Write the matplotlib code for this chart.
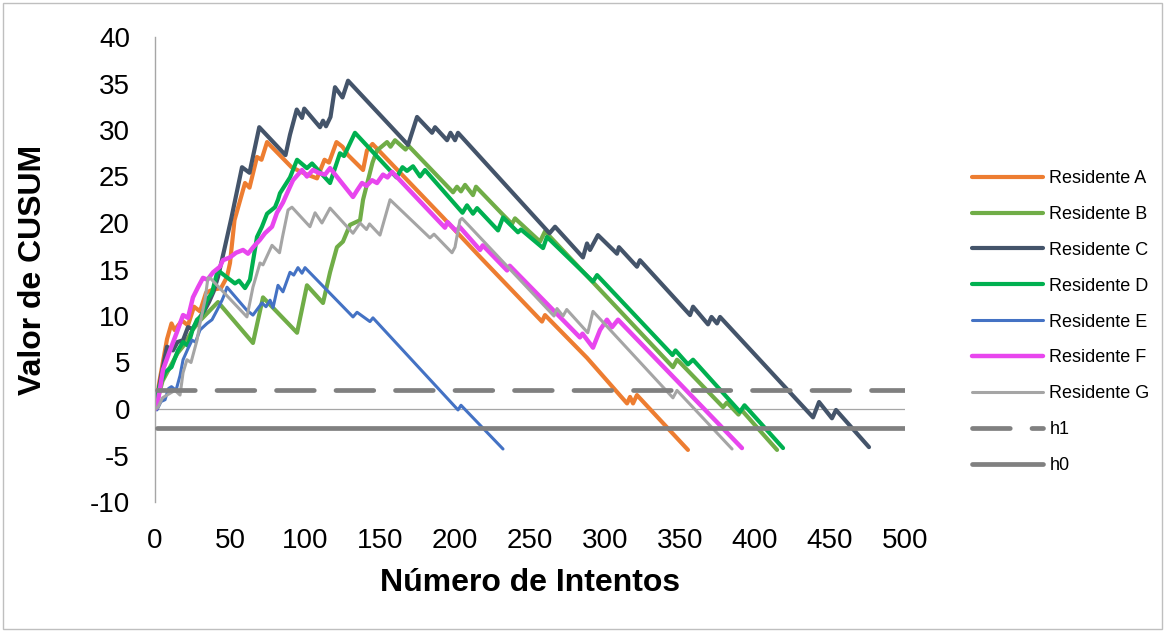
import matplotlib.pyplot as plt
from matplotlib.patches import Rectangle

plt.rcParams['font.family'] = ['Liberation Sans', 'DejaVu Sans']
plt.rcParams['axes.unicode_minus'] = False

# vertices (attempt number, CUSUM value)
a_x = [0, 3, 8, 11, 13, 18, 22, 26, 30, 34, 38, 44, 48, 50, 53, 60, 63, 68, 71, 74.7, 91, 100, 108,
       113, 116, 121, 125, 128.7, 138.7, 141.3, 145, 192, 217, 258, 260, 288, 314.7, 316.7, 318.7,
       321.3, 355.3]
a_y = [0, 3, 7.5, 9.2, 8.5, 9.5, 9, 11, 10.5, 12.5, 12.8, 13, 14.2, 15.7, 20.3, 24.3, 23.8, 27.1,
       26.8, 28.7, 26, 25.3, 24.8, 26.8, 26.5, 28.7, 28.2, 27.3, 25.7, 27.8, 28.5, 20.6, 16.3, 9.4,
       10.1, 5.5, 0.6, 1.3, 0.6, 1.5, -4.4]

b_x = [0, 5, 10, 15, 20, 25, 30, 36, 42, 65.3, 72, 94.7, 101.3, 112, 116.7, 121.3, 125.3, 130,
       136.7, 138.7, 145, 148, 154.7, 157, 160, 167, 169, 198.7, 201.3, 204, 206.7, 212, 214, 231.3,
       238, 240, 256.7, 260, 345.3, 348, 350, 378.7, 381.3, 389, 391, 414.7]
b_y = [0, 3, 4.5, 6, 7, 8.5, 9.5, 10.5, 11.5, 7.1, 12, 8.2, 13.3, 11.4, 14.7, 17.4, 18, 19.8,
       20.3, 22.5, 26.5, 27.8, 28.7, 28.2, 28.9, 27.9, 28.3, 23.3, 23.9, 23.4, 24.1, 23, 23.9, 21,
       19.9, 20.5, 18, 19.1, 4.5, 5.3, 5.0, 0.2, 0.7, -0.6, -0.1, -4.4]

c_x = [0, 1, 4, 8, 12, 15, 18.7, 22, 25, 28, 33, 36, 39, 42, 46, 51, 58, 63, 69.5, 87, 90, 94.5,
       98, 99.5, 110, 112, 114, 117, 120, 125, 128.7, 168.7, 174.7, 184.7, 186.7, 194.7, 197, 200,
       202, 263, 266.7, 285.3, 288, 290, 295.3, 308, 309.3, 321.3, 323.3, 356.7, 358.7, 368.7, 371,
       374.7, 376.7, 438.7, 442.7, 451.3, 454, 476]
c_y = [0, 0.6, 3.5, 6.7, 6.3, 7.2, 7.4, 8.8, 8.6, 9.4, 10.6, 11.5, 12.6, 14.2, 17, 20.6, 26, 25.4,
       30.3, 27.3, 29.5, 32.2, 31.3, 32.3, 30.3, 31, 30.4, 31.4, 34.6, 33.5, 35.3, 28.4, 31.4, 29.7,
       30.3, 28.9, 29.7, 28.9, 29.7, 18.9, 19.6, 16.3, 17.8, 17.1, 18.7, 16.7, 17.4, 15.3, 16, 10.1,
       11, 9.1, 9.9, 9.2, 9.9, -0.9, 0.75, -1, -0.1, -4.1]

d_x = [0, 3, 7, 11, 15.3, 18.7, 22, 25, 28, 31, 34.7, 38, 41.3, 42, 53.3, 56, 60, 63.3, 68, 71.3,
       74.7, 80, 82, 83.3, 90, 94.7, 101.3, 104.7, 116.7, 123.3, 126, 133.3, 161, 165, 168, 172,
       176.7, 180, 205, 208, 212, 214.7, 228.7, 232, 242, 244, 258.7, 261.3, 292, 294.7, 345, 347,
       355.3, 358.7, 390, 393, 418.7]
d_y = [0, 2.5, 4, 4.5, 6.3, 7.2, 6.8, 8.5, 9.6, 10, 11.7, 12.5, 14.6, 14.9, 13.5, 13.8, 13, 13.9,
       18.5, 19.6, 21, 21.7, 22.5, 23.2, 24.9, 26.8, 25.9, 26.4, 24.3, 27.5, 27.2, 29.7, 24.9, 26,
       25.6, 26.1, 25, 25.7, 21.1, 21.9, 21, 21.6, 19.2, 20.6, 19, 19.3, 17.3, 18.5, 13.7, 14.4, 5.8,
       6.3, 4.8, 5.3, -0.3, 0.4, -4.2]

e_x = [0, 1.3, 4, 6.7, 9, 11, 14, 16.7, 18.7, 22, 24.7, 27, 30, 34.7, 38, 41.3, 44.7, 46, 48, 61.3,
       65.3, 71.3, 74, 76.7, 78.7, 82, 85.3, 90, 92.5, 95.3, 98, 100, 132, 134.7, 143.3, 145.3, 202,
       204, 232]
e_y = [0, -0.1, 0.8, 1, 2.2, 2.4, 2.0, 3.6, 5.3, 6.5, 7.4, 7.2, 8.5, 9.2, 9.6, 10.6, 11.7, 12.2,
       13.1, 10.6, 10.1, 11.4, 11, 11.7, 10.9, 13.3, 12.6, 14.7, 14.4, 15.2, 14.6, 15.2, 9.9, 10.4,
       9.4, 9.8, -0.1, 0.4, -4.3]

f_x = [0, 1.3, 5.3, 10, 14.7, 18.7, 22, 25.3, 28.7, 32, 35, 38.7, 43.3, 45.3, 50, 54, 58.7, 62, 66,
       70, 73.3, 78, 81.3, 85.3, 90, 92, 98, 101.3, 105.3, 109, 113.3, 116.7, 132, 134.7, 138, 141,
       144.7, 148, 152, 155, 158, 193.3, 195, 201, 203, 216.7, 218.5, 234.7, 236.5, 283.3, 285, 292,
       296.7, 301.3, 304.7, 308.7, 391.3]
f_y = [0, 0.2, 4.2, 6.3, 8.3, 10.1, 9.8, 12, 13.1, 14.1, 13.9, 14.7, 15.3, 16, 16.3, 16.8, 17.1,
       16.7, 17.5, 18.2, 18.9, 19.6, 21.1, 22.2, 23.9, 24.6, 25.7, 25, 25.7, 25.4, 25.2, 25.9, 22.8,
       23.5, 24.3, 24, 24.6, 24.3, 25.2, 24.9, 25.5, 19.5, 20.1, 19.1, 19.6, 17.1, 17.6, 14.9, 15.4,
       7.7, 8.1, 6.6, 8.5, 9.6, 8.8, 9.6, -4.2]

g_x = [0, 2, 5, 8, 13.3, 16.7, 18.7, 21.3, 24, 28, 30, 33.3, 35.3, 36.7, 61.3, 65.3, 70, 72, 78,
       83, 85, 88.7, 91.3, 103.3, 106.7, 111.3, 116.7, 132, 136.7, 141, 143, 150, 156.7, 183.3, 186,
       198, 200, 203.3, 204.7, 266, 268, 272, 274.5, 288.5, 292, 345.3, 348, 384.7]
g_y = [0, 0.2, 1.2, 1.5, 2, 1.5, 3.9, 5.3, 5.0, 7.4, 9.2, 11.7, 14.1, 14.1, 9.9, 13.1, 15.7, 15.5,
       17.6, 16.8, 18.5, 21.4, 21.7, 19.6, 21.1, 20, 21.6, 18.9, 20, 19.3, 19.9, 18.7, 22.5, 18.4,
       18.8, 16.8, 17.4, 20.3, 20.5, 10, 10.8, 10, 10.7, 8.2, 10.5, 1.2, 2, -4.3]

h_x = [1, 500]
h1 = 2.0
h0 = -2.0

series = [
    ("Residente A", a_x, a_y, "#ED7D31", 3.0),
    ("Residente B", b_x, b_y, "#70AD47", 3.0),
    ("Residente C", c_x, c_y, "#44546A", 3.0),
    ("Residente D", d_x, d_y, "#00B050", 3.0),
    ("Residente E", e_x, e_y, "#4472C4", 2.2),
    ("Residente F", f_x, f_y, "#E846EE", 3.2),
    ("Residente G", g_x, g_y, "#A5A5A5", 2.2),
]

fig = plt.figure(figsize=(11.65, 6.32), dpi=100)
ax = fig.add_axes([155 / 1165, 1 - 502 / 632, 750 / 1165, 465 / 632])

ax.axhline(0, color="#A6A6A6", lw=0.9, zorder=1)
for name, xs, ys, col, lw in series:
    ax.plot(xs, ys, color=col, lw=lw, label=name, solid_joinstyle="round",
            solid_capstyle="round", zorder=2)

ax.plot(h_x, [h1, h1], color="#808080", lw=3.4, dashes=(8, 4.6), dash_capstyle="round",
        label="h1", zorder=3)
ax.plot(h_x, [h0, h0], color="#808080", lw=3.4, solid_capstyle="round", label="h0", zorder=3)

ax.set_xlim(0, 500)
ax.set_ylim(-10, 40)
ax.set_xticks(range(0, 501, 50))
ax.set_yticks(range(-10, 41, 5))
ax.tick_params(axis="both", length=0, labelsize=20)
ax.tick_params(axis="x", pad=19)
ax.tick_params(axis="y", pad=18)
for s in ["top", "right", "bottom"]:
    ax.spines[s].set_visible(False)
ax.spines["left"].set_color("#A6A6A6")
ax.spines["left"].set_linewidth(1.0)

fig.text(33 / 1165, 1 - 270 / 632, "Valor de CUSUM", rotation=90, ha="center", va="center",
         fontsize=23, fontweight="bold")
fig.text(530 / 1165, 1 - 583 / 632, "Número de Intentos", ha="center", va="center",
         fontsize=23, fontweight="bold")

fig.legend(loc="upper left", bbox_to_anchor=(972 / 1165, 1 - 170 / 632), frameon=False,
           fontsize=13, handlelength=3.95, handletextpad=0.33, labelspacing=1.046,
           borderpad=0, borderaxespad=0)

fig.patches.append(Rectangle((0.003, 0.005), 0.994, 0.99, transform=fig.transFigure,
                             fill=False, edgecolor="#BFBFBF", lw=1))

fig.savefig("out.png", dpi=100)
